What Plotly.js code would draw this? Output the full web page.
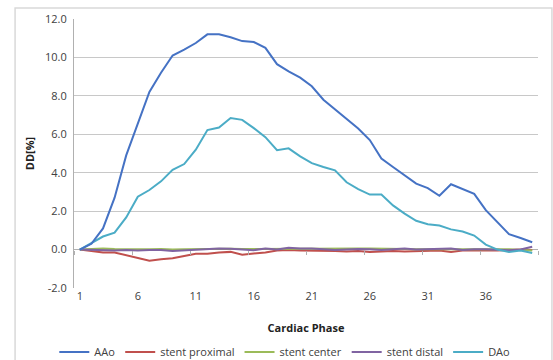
<!DOCTYPE html>
<html><head><meta charset="utf-8">
<script src="https://cdn.plot.ly/plotly-3.0.1.min.js"></script>
<style>html,body{margin:0;padding:0;background:#fff;}#c{width:553px;height:360px;}</style>
</head><body><div id="c"></div>
<script>
const phases = Array.from({length: 40}, (_, i) => i + 1);
const aao = [0, 0.3, 1.1, 2.7, 4.9, 6.5, 8.2, 9.2, 10.1, 10.4, 10.75, 11.2, 11.2, 11.05, 10.85, 10.8, 10.5, 9.65, 9.27, 8.95, 8.5, 7.8, 7.3, 6.8, 6.3, 5.7, 4.74, 4.3, 3.85, 3.43, 3.2, 2.8, 3.4, 3.15, 2.9, 2.05, 1.4, 0.8, 0.6, 0.38];
const stentProximal = [0, -0.07, -0.15, -0.15, -0.3, -0.47, -0.58, -0.5, -0.45, -0.33, -0.22, -0.22, -0.15, -0.12, -0.27, -0.2, -0.15, -0.05, -0.02, -0.05, -0.05, -0.08, -0.07, -0.1, -0.08, -0.12, -0.1, -0.08, -0.1, -0.08, -0.07, -0.05, -0.12, -0.05, -0.05, -0.03, -0.05, -0.02, 0.0, -0.02];
const stentCenter = [0, 0.02, 0.05, 0.03, 0.02, 0.03, 0.02, 0.03, 0.0, 0.02, 0.03, 0.03, 0.05, 0.04, 0.03, 0.03, 0.04, 0.05, 0.04, 0.03, 0.03, 0.02, 0.03, 0.04, 0.05, 0.06, 0.04, 0.02, 0.03, 0.02, 0.02, 0.03, 0.03, 0.02, 0.04, 0.03, 0.03, 0.02, -0.02, -0.05];
const stentDistal = [0, -0.02, -0.02, -0.05, -0.02, -0.05, -0.02, -0.02, -0.08, -0.05, -0.03, 0.0, 0.05, 0.04, 0.0, -0.03, 0.05, 0.0, 0.1, 0.05, 0.06, 0.03, -0.02, 0.0, 0.03, 0.02, -0.02, 0.02, 0.05, 0.0, 0.02, 0.02, 0.05, -0.02, 0.02, 0.02, 0.0, -0.03, 0.0, 0.15];
const dao = [0, 0.35, 0.68, 0.88, 1.67, 2.75, 3.1, 3.55, 4.15, 4.45, 5.2, 6.22, 6.35, 6.85, 6.75, 6.32, 5.85, 5.17, 5.27, 4.85, 4.5, 4.3, 4.12, 3.5, 3.15, 2.86, 2.86, 2.3, 1.87, 1.5, 1.32, 1.25, 1.05, 0.94, 0.73, 0.26, 0.0, -0.12, -0.05, -0.18];
const xTicks = [1, 6, 11, 16, 21, 26, 31, 36];
const xTickMarks = [0.5, 5.5, 10.5, 15.5, 20.5, 25.5, 30.5, 35.5, 40.5];
const yTicks = [-2, 0, 2, 4, 6, 8, 10, 12];

const names = ["AAo", "stent proximal", "stent center", "stent distal", "DAo"];
const series = [aao, stentProximal, stentCenter, stentDistal, dao];
const colors = ["#4572C4", "#C0504D", "#9BBB59", "#8064A2", "#4BACC6"];
const traces = series.map((s, i) => ({
  x: phases, y: s, name: names[i], type: "scatter", mode: "lines",
  xaxis: i === 0 ? "x2" : "x",
  line: {color: colors[i], width: 2}
}));
const ff = "Open Sans, Noto Sans, sans-serif";
const font = {family: ff, size: 11, color: "#404040"};
const layout = {
  width: 553, height: 360,
  margin: {l: 74, r: 15, t: 19, b: 72},
  paper_bgcolor: "#fff", plot_bgcolor: "#fff",
  font: font,
  showlegend: true,
  legend: {orientation: "h", x: 0.515, xanchor: "center", xref: "container", y: 0.022, yanchor: "middle", yref: "container",
    font: {family: ff, size: 11, color: "#404040"}, traceorder: "normal", itemwidth: 30, tracegroupgap: 0},
  xaxis: {range: [0.5, 40.5], tickvals: xTicks, ticktext: xTicks.map(String), showgrid: false, automargin: false,
    zeroline: false, showline: false, ticks: "", tickfont: font,
    title: {text: "<b>Cardiac Phase</b>", font: {family: ff, size: 11, color: "#222"}, standoff: 22}},
  xaxis2: {overlaying: "x", matches: "x", anchor: "free", position: 2 / 14, side: "bottom",
    tickvals: xTickMarks, showticklabels: false, ticks: "outside", ticklen: 4, tickcolor: "#B0B0B0", tickwidth: 1,
    showgrid: false, zeroline: false, showline: false, automargin: false},
  yaxis: {range: [-2, 12], tickvals: yTicks, ticktext: yTicks.map(v => v.toFixed(1)), automargin: false,
    showgrid: true, gridcolor: "#C8C8C8", gridwidth: 1, zeroline: true, zerolinecolor: "#B0B0B0", zerolinewidth: 1,
    showline: true, linecolor: "#B0B0B0", linewidth: 1, ticks: "", tickfont: font, ticklabelstandoff: 4,
    title: {text: "<b>DD[%]</b>", font: {family: ff, size: 11, color: "#222"}, standoff: 8}},
  shapes: [
    {type: "rect", xref: "paper", yref: "paper", x0: -0.127, x1: 1.030, y0: -0.3, y1: 1.041,
     line: {color: "#D9D9D9", width: 1.5}, fillcolor: "rgba(0,0,0,0)", layer: "below"}
  ]
};
Plotly.newPlot("c", traces, layout, {staticPlot: true, displayModeBar: false});
</script></body></html>
